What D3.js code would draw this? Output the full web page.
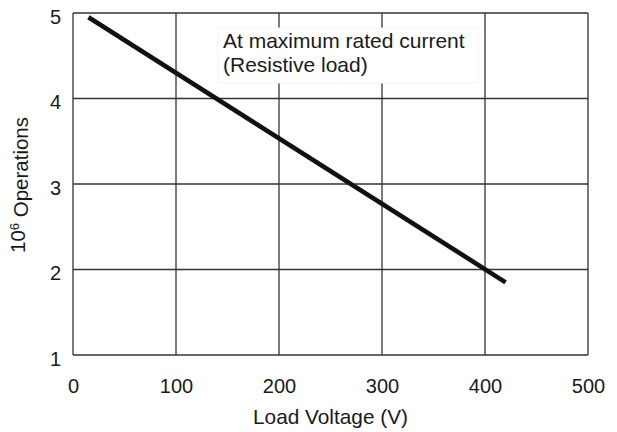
<!DOCTYPE html>
<html>
<head>
<meta charset="utf-8">
<script src="https://cdn.jsdelivr.net/npm/d3@7"></script>
<style>
  html, body { margin: 0; padding: 0; background: #fff; }
  svg { display: block; }
  text { font-family: "Liberation Sans", Arial, sans-serif; fill: #1a1a1a; }
</style>
</head>
<body>
<svg id="chart" width="617" height="432"></svg>
<script>
// ---- data ----
const xTicks = [0, 100, 200, 300, 400, 500];
const yTicks = [1, 2, 3, 4, 5];
const voltage = [15, 420];          // Load Voltage (V)
const operations = [4.95, 1.85];    // 10^6 Operations
const xTitle = "Load Voltage (V)";
const yTitleBase = "10";
const yTitleExp = "6";
const yTitleRest = " Operations";
const noteLines = ["At maximum rated current", "(Resistive load)"];

// ---- layout ----
const pL = 73, pR = 588, pT = 13, pB = 355;
const svg = d3.select("#chart");

const x = d3.scaleLinear().domain([0, 500]).range([pL, pR]);
const y = d3.scaleLinear().domain([1, 5]).range([pB, pT]);

// grid
const grid = svg.append("g").attr("stroke", "#333").attr("stroke-width", 1.3);
grid.selectAll("line.v").data(xTicks).join("line").attr("class", "v")
  .attr("x1", d => x(d)).attr("x2", d => x(d))
  .attr("y1", pT).attr("y2", pB);
grid.selectAll("line.h").data(yTicks).join("line").attr("class", "h")
  .attr("y1", d => y(d)).attr("y2", d => y(d))
  .attr("x1", pL).attr("x2", pR);

// axis labels via d3 axes (no domain/tick lines)
const xAxis = svg.append("g")
  .attr("transform", `translate(0,${pB})`)
  .call(d3.axisBottom(x).tickValues(xTicks).tickFormat(d3.format("d")).tickSize(0).tickPadding(24));
xAxis.select(".domain").remove();
xAxis.selectAll("text").style("font-size", "20px").style("font-family", "Liberation Sans, Arial, sans-serif").attr("fill", "#1a1a1a");

const yAxis = svg.append("g")
  .attr("transform", `translate(${pL},0)`)
  .call(d3.axisLeft(y).tickValues(yTicks).tickFormat(d3.format("d")).tickSize(0).tickPadding(12));
yAxis.select(".domain").remove();
yAxis.selectAll("text").style("font-size", "20px").style("font-family", "Liberation Sans, Arial, sans-serif").attr("fill", "#1a1a1a").attr("dy", "0.52em");

// annotation box
svg.append("rect")
  .attr("x", 218).attr("y", 28).attr("width", 260).attr("height", 55)
  .attr("fill", "#fff").attr("stroke", "#f2f5f2").attr("stroke-width", 1);
svg.append("g").selectAll("text").data(noteLines).join("text")
  .attr("x", 223).attr("y", (d, i) => 48 + i * 24)
  .style("font-size", "21px")
  .text(d => d);

// curve
const line = d3.line().x(d => x(d[0])).y(d => y(d[1]));
svg.append("path")
  .datum(voltage.map((v, i) => [v, operations[i]]))
  .attr("d", line)
  .attr("fill", "none").attr("stroke", "#111").attr("stroke-width", 4.6);

// axis titles
svg.append("text")
  .attr("x", (pL + pR) / 2).attr("y", 424)
  .attr("text-anchor", "middle")
  .style("font-size", "20.8px")
  .text(xTitle);

const yt = svg.append("text")
  .attr("transform", `translate(25,185) rotate(-90)`)
  .attr("text-anchor", "middle")
  .style("font-size", "20.5px");
yt.append("tspan").text(yTitleBase);
yt.append("tspan").attr("dy", "-0.45em").style("font-size", "13px").text(yTitleExp);
yt.append("tspan").attr("dy", "0.45em").text(yTitleRest);
</script>
</body>
</html>
